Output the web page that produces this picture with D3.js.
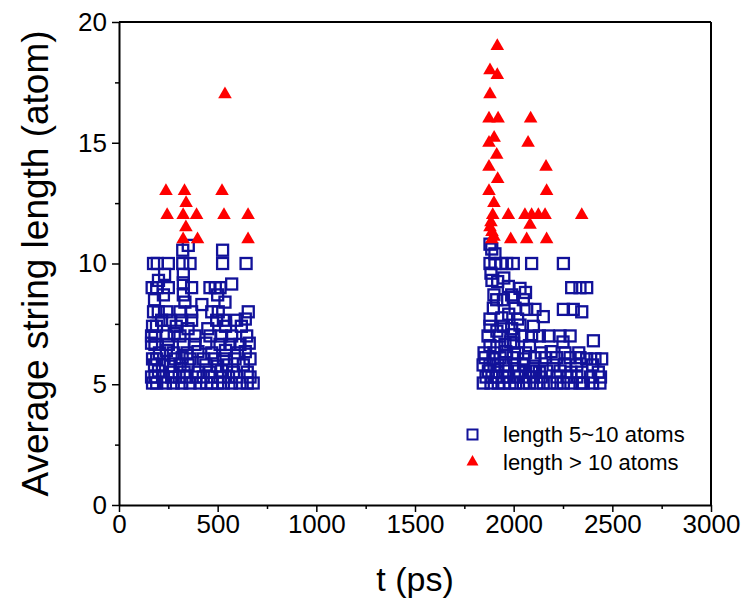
<!DOCTYPE html>
<html>
<head>
<meta charset="utf-8">
<script src="https://cdn.jsdelivr.net/npm/d3@7"></script>
<style>
    body { margin: 0; background: #fff; }
    text { font-family: Arial, "Liberation Sans", sans-serif; fill: #000; }
</style>
</head>
<body>
<script>
// string length (atom) vs time (ps), [t, length]
const shortLeft = [
    [323,10.55],[351,10.75],[525,10.55],
    [175,10],[194,10],[250,10],[323,10],[360,10],[525,10],[644,10],
    [231,9.55],[326,9.55],[326,9.2],[200,9.3],
    [168,9],[191,9],[250,9],[368,9],[461,9],[488,9],[512,9],[571,9.15],
    [225,8.7],[326,8.7],[500,8.7],[180,8.5],[334,8.4],[537,8.4],[420,8.3],
    [175,8],[199,8],[242,8],[309,8],[368,8],[470,8],[503,8],[655,8],
    [216,7.65],[258,7.65],[318,7.65],[368,7.65],[495,7.65],[529,7.65],[596,7.65],[640,7.7],
    [170,7.4],[190,7.4],[290,7.4],[350,7.3],[540,7.4],[620,7.4],[450,7.3],
    [165,7],[182,7],[242,7],[280,7.1],[309,7],[385,7],[461,7],[520,7],[571,7],[647,7],
    [165,6.7],[182,6.65],[250,6.65],[326,6.65],[385,6.65],[440,6.7],[512,6.65],[562,6.65],[613,6.65],[660,6.7],
    [205,6.3],[240,6.4],[275,6.3],[345,6.3],[400,6.35],[470,6.3],[540,6.4],[600,6.3],[640,6.35],
    [170,6.05],[191,6.05],[284,6.05],[320,6.1],[360,6.05],[427,6.05],[486,6.05],[529,6.05],[588,6.05],[664,6.05],
    [180,5.8],[220,5.8],[260,5.75],[309,5.8],[350,5.8],[440,5.8],[500,5.75],[545,5.8],[630,5.8],
    [200,5.55],[270,5.5],[330,5.5],[400,5.5],[460,5.5],[520,5.55],[580,5.5],[650,5.5],
    [165,5.3],[182,5.3],[225,5.3],[267,5.3],[305,5.3],[343,5.3],[390,5.3],[427,5.3],[470,5.3],[512,5.3],[555,5.3],[596,5.3],[664,5.3],
    [170,5.05],[191,5.05],[235,5.05],[275,5.05],[318,5.05],[360,5.05],[410,5.05],[444,5.05],[470,5.05],[500,5.05],[529,5.05],[570,5.05],[613,5.05],[650,5.05],[680,5.05]
];
const shortRight = [
    [1880,10.8],[1889,10.6],[1905,10.4],
    [1880,10],[1905,10],[1935,10],[1965,10],[1998,10],[2091,10],[2252,10],
    [1885,9.6],[1919,9.25],[1890,9.3],[1950,9.4],
    [1973,9.05],[2032,8.97],[2294,9],[2336,9],[2370,9],
    [1900,8.7],[1990,8.7],[2060,8.8],
    [1914,8.5],[1948,8.5],[1998,8.6],[2049,8.5],
    [1897,8.15],[2007,8.15],[2066,8.1],[2108,8.1],[2252,8.1],[2302,8.1],[2345,8],
    [1880,7.7],[1940,7.75],[1975,7.9],[2020,7.7],[2150,7.8],
    [1880,7.4],[1948,7.4],[2032,7.45],[1915,7.2],[1990,7.3],[2100,7.4],
    [1870,7],[1930,7],[2000,7.05],[2041,7],[2091,7],[2130,7],[2176,7],[2235,7],[2286,7],
    [2404,6.8],[1985,6.75],[2250,6.75],
    [1880,6.6],[1915,6.55],[1956,6.65],[2000,6.7],[2080,6.6],
    [1850,6.3],[1900,6.3],[1960,6.35],[2020,6.3],[2060,6.3],[2140,6.3],[2190,6.35],[2260,6.3],[2330,6.3],
    [1855,6.1],[1895,6.05],[1931,6.1],[1998,6.1],[2050,6.05],[2108,6.1],[2159,6.1],[2218,6.1],[2286,6.1],[2336,6.1],[2370,6.05],[2412,6.05],[2446,6.05],
    [1845,5.8],[1880,5.8],[1920,5.8],[1960,5.8],[2005,5.8],[2050,5.8],[2100,5.75],[2200,5.8],[2260,5.8],[2320,5.8],[2400,5.8],
    [1872,5.55],[1915,5.5],[1956,5.55],[2024,5.55],[2060,5.5],[2091,5.55],[2130,5.5],[2167,5.55],[2235,5.55],[2290,5.5],[2345,5.5],[2429,5.5],
    [1860,5.3],[1890,5.3],[1910,5.3],[1945,5.3],[1975,5.3],[2020,5.3],[2060,5.3],[2100,5.3],[2140,5.3],[2220,5.3],[2270,5.3],[2320,5.3],[2390,5.3],[2440,5.3],
    [1846,5.05],[1885,5.05],[1922,5.05],[1950,5.05],[1981,5.05],[2010,5.05],[2049,5.05],[2080,5.05],[2117,5.05],[2150,5.05],[2184,5.05],[2220,5.05],[2252,5.05],[2290,5.05],[2336,5.05],[2353,5.05],[2400,5.05],[2437,5.05]
];
const longLeft = [
    [238,13],[332,13],[522,13],[340,12.5],
    [244,12],[325,12],[393,12],[532,12],[654,12],
    [339,11.5],[325,11],[398,11],[654,11],[537,17]
];
const longRight = [
    [1917,19],[1880,18],[1917,17.8],[1880,17],
    [1875,16],[1921,16],[2086,16],[1901,15.2],[1875,15],[2073,15],
    [1914,14.5],[1875,14],[2164,14],[1919,13.5],[1875,13],[2167,13],
    [1900,12.5],[1894,12],[1973,12],[2057,12],[2091,12],[2125,12],[2159,12],[2345,12],
    [1885,11.7],[2083,11.6],[1880,11.5],[1890,11.3],[1900,11.1],
    [1889,11],[1985,11],[2066,11],[2167,11]
];
const xTicks = [0, 500, 1000, 1500, 2000, 2500, 3000];
const yTicks = [0, 5, 10, 15, 20];
const legendLabels = ["length 5~10 atoms", "length > 10 atoms"];

const shortData = shortLeft.concat(shortRight);
const longData = longLeft.concat(longRight);

const width = 748, height = 607;
const pLeft = 119, pRight = 711, pTop = 22, pBottom = 505;
const blue = "#12129a";

const svg = d3.select("body").append("svg")
    .attr("width", width)
    .attr("height", height);

const x = d3.scaleLinear().domain([0, 3000]).range([pLeft, pRight]);
const y = d3.scaleLinear().domain([0, 20]).range([pBottom, pTop]);

// minor ticks
svg.append("g")
    .attr("transform", `translate(0,${pBottom})`)
    .call(d3.axisBottom(x).tickValues(d3.range(250, 3000, 500)).tickSize(4).tickFormat(""))
    .call(g => g.select(".domain").remove());
svg.append("g")
    .attr("transform", `translate(${pLeft},0)`)
    .call(d3.axisLeft(y).tickValues(d3.range(2.5, 20, 5)).tickSize(4).tickFormat(""))
    .call(g => g.select(".domain").remove());

// major axes
const xAxis = svg.append("g")
    .attr("transform", `translate(0,${pBottom})`)
    .call(d3.axisBottom(x).tickValues(xTicks).tickFormat(d3.format("d"))
        .tickSize(7).tickSizeOuter(0).tickPadding(3));
const yAxis = svg.append("g")
    .attr("transform", `translate(${pLeft},0)`)
    .call(d3.axisLeft(y).tickValues(yTicks).tickFormat(d3.format("d"))
        .tickSize(7).tickSizeOuter(0).tickPadding(5));

[xAxis, yAxis].forEach(g => {
    g.selectAll("text").attr("font-size", 26).attr("font-family", "Arial, 'Liberation Sans', sans-serif");
});
svg.selectAll(".tick line").attr("stroke", "#000").attr("stroke-width", 1.5);
svg.selectAll(".domain").attr("stroke", "#000").attr("stroke-width", 2);

// top and right frame
svg.append("line").attr("x1", pLeft).attr("x2", pRight).attr("y1", pTop).attr("y2", pTop)
    .attr("stroke", "#000").attr("stroke-width", 2);
svg.append("line").attr("x1", pRight).attr("x2", pRight).attr("y1", pTop).attr("y2", pBottom)
    .attr("stroke", "#000").attr("stroke-width", 2);

// axis titles
svg.append("text")
    .attr("x", (pLeft + pRight) / 2)
    .attr("y", 591)
    .attr("text-anchor", "middle")
    .attr("font-size", 34)
    .text("t (ps)");
svg.append("text")
    .attr("transform", `translate(48,${(pTop + pBottom) / 2}) rotate(-90)`)
    .attr("text-anchor", "middle")
    .attr("font-size", 37)
    .text("Average string length (atom)");

// points
const sq = 11;
svg.append("g").selectAll("rect")
    .data(shortData)
    .join("rect")
    .attr("x", d => x(d[0]) - sq / 2)
    .attr("y", d => y(d[1]) - sq / 2)
    .attr("width", sq)
    .attr("height", sq)
    .attr("fill", "none")
    .attr("stroke", blue)
    .attr("stroke-width", 2.3);

const tri = d3.symbol().type(d3.symbolTriangle).size(80);
svg.append("g").selectAll("path")
    .data(longData)
    .join("path")
    .attr("d", tri)
    .attr("transform", d => `translate(${x(d[0])},${y(d[1])})`)
    .attr("fill", "#ff0000");

// legend
const legend = svg.append("g");
legend.append("rect")
    .attr("x", 467.5).attr("y", 429.5).attr("width", 10).attr("height", 10)
    .attr("fill", "none").attr("stroke", blue).attr("stroke-width", 2);
legend.append("path")
    .attr("d", d3.symbol().type(d3.symbolTriangle).size(62))
    .attr("transform", "translate(472.5,462)")
    .attr("fill", "#ff0000");
legend.selectAll("text.lab")
    .data(legendLabels)
    .join("text")
    .attr("class", "lab")
    .attr("x", 503)
    .attr("y", (d, i) => 442 + i * 28)
    .attr("font-size", 22)
    .text(d => d);
</script>
</body>
</html>
